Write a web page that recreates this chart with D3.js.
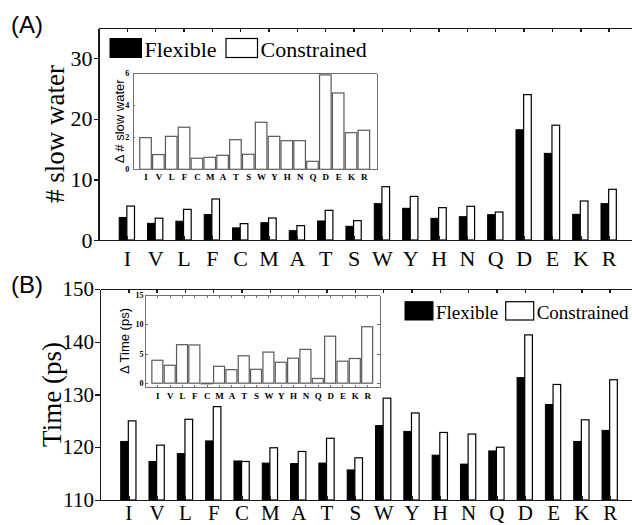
<!DOCTYPE html>
<html lang="en">
<head>
<meta charset="utf-8">
<title>Slow water and residence time</title>
<script src="https://d3js.org/d3.v7.min.js"></script>
<style>
    body { margin: 0; background: white; }
    .axis path, .axis line { fill: none; stroke: #1a1a1a; stroke-width: 1.4; shape-rendering: crispEdges; }
    .inset path, .inset line { fill: none; stroke: #707070; stroke-width: 1; shape-rendering: crispEdges; }
</style>
</head>
<body>
<script>
// residues on the x axis
var residues = ["I", "V", "L", "F", "C", "M", "A", "T", "S", "W", "Y", "H", "N", "Q", "D", "E", "K", "R"];

// (A) number of slow water
var slowFlexible    = [3.72, 2.75, 3.1, 4.2, 2.0, 2.86, 1.54, 3.14, 2.26, 6.0, 5.23, 3.58, 3.85, 4.18, 18.2, 14.3, 4.24, 6.0];
var slowConstrained = [5.6, 3.6, 5.06, 6.77, 2.7, 3.63, 2.37, 4.9, 3.19, 8.8, 7.2, 5.34, 5.56, 4.62, 24.0, 18.95, 6.44, 8.37];
var slowDelta       = [1.98, 0.92, 2.06, 2.63, 0.69, 0.75, 0.875, 1.85, 0.94, 2.94, 2.06, 1.79, 1.79, 0.5, 5.9, 4.77, 2.29, 2.44];
var slowTicks = [0, 10, 20, 30];
var slowDeltaTicks = [0, 2, 4, 6];

// (B) residence time
var timeFlexible    = [121.1, 117.3, 118.8, 121.2, 117.4, 117.0, 116.9, 117.0, 115.7, 124.1, 123.0, 118.5, 116.8, 119.3, 133.2, 128.1, 121.1, 123.2];
var timeConstrained = [125.0, 120.4, 125.3, 127.7, 117.3, 119.9, 119.2, 121.7, 118.0, 129.3, 126.5, 122.8, 122.5, 120.0, 141.3, 131.9, 125.2, 132.8];
var timeDelta       = [3.9, 3.05, 6.55, 6.5, -0.1, 2.87, 2.3, 4.66, 2.36, 5.29, 3.56, 4.25, 5.75, 0.8, 7.99, 3.74, 4.2, 9.6];
var timeTicks = [110, 120, 130, 140, 150];
var timeDeltaTicks = [0, 5, 10, 15];

var w = 632, h = 525;
var serif = "'Liberation Serif', 'Times New Roman', serif";
var sans = "'Liberation Sans', Arial, sans-serif";
var idx = d3.range(1, residues.length + 1);
var resName = function(d) { return residues[d - 1]; };
var intFmt = d3.format("d");

var svg = d3.select("body").append("svg").attr("width", w).attr("height", h);

function styleText(g, family, size, weight) {
    g.attr("font-family", family).attr("font-size", size);
    g.selectAll("text").attr("fill", "black").attr("font-weight", weight || "normal");
}

function drawPanel(c) {
    var g = svg.append("g");
    var x = d3.scaleLinear().domain([0, 19]).range([c.left, c.right]);
    var y = d3.scaleLinear().domain(c.yDomain).range([c.bottom, c.top]);
    var bw = 0.27 * (x(1) - x(0));
    var base = c.yDomain[0];

    // bars: flexible (black) left, constrained (white) right
    g.selectAll("rect.flex").data(c.flex).enter().append("rect")
        .attr("x", function(d, i) { return x(i + 1) - bw; })
        .attr("y", function(d) { return y(d); })
        .attr("width", bw)
        .attr("height", function(d) { return y(base) - y(d); })
        .attr("fill", "black").attr("stroke", "black").attr("stroke-width", 1);
    g.selectAll("rect.cons").data(c.cons).enter().append("rect")
        .attr("x", function(d, i) { return x(i + 1); })
        .attr("y", function(d) { return y(d); })
        .attr("width", bw)
        .attr("height", function(d) { return y(base) - y(d); })
        .attr("fill", "white").attr("stroke", "black").attr("stroke-width", 1.2);

    // frame + axes
    g.append("g").attr("class", "axis").attr("transform", "translate(0," + c.top + ")")
        .call(d3.axisTop(x).tickValues(idx).tickSizeInner(-4).tickSizeOuter(0).tickFormat(""));
    var xb = g.append("g").attr("class", "axis").attr("transform", "translate(0," + c.bottom + ")")
        .call(d3.axisBottom(x).tickValues(idx).tickSizeInner(-4).tickSizeOuter(0).tickPadding(c.xPad).tickFormat(resName));
    styleText(xb, serif, c.xFont);
    var yl = g.append("g").attr("class", "axis").attr("transform", "translate(" + c.left + ",0)")
        .call(d3.axisLeft(y).tickValues(c.yTicks).tickSizeInner(5).tickSizeOuter(0).tickPadding(1).tickFormat(intFmt));
    styleText(yl, serif, c.tickFont);

    g.append("text")
        .attr("transform", "translate(" + c.ylabelX + "," + ((c.top + c.bottom) / 2) + ") rotate(-90)")
        .attr("text-anchor", "middle")
        .attr("font-family", serif).attr("font-size", 27)
        .text(c.ylabel);

    g.append("text").attr("x", 11).attr("y", c.tagY)
        .attr("font-family", sans).attr("font-size", 24)
        .text(c.tag);

    // legend
    var L = c.legend;
    g.append("rect").attr("x", L.x).attr("y", L.y).attr("width", L.bw).attr("height", L.bh)
        .attr("fill", "black").attr("stroke", "black");
    g.append("text").attr("x", L.x + L.bw + 3).attr("y", L.y + L.bh - 1)
        .attr("font-family", serif).attr("font-size", L.font).text("Flexible");
    g.append("rect").attr("x", L.x2).attr("y", L.y).attr("width", L.bw).attr("height", L.bh)
        .attr("fill", "white").attr("stroke", "black").attr("stroke-width", 1.2);
    g.append("text").attr("x", L.x2 + L.bw + 3).attr("y", L.y + L.bh - 1)
        .attr("font-family", serif).attr("font-size", L.font).text("Constrained");

    drawInset(c.inset);
}

function drawInset(c) {
    var g = svg.append("g");
    var x = d3.scaleLinear().domain([0, 19]).range([c.left, c.right]);
    var y = d3.scaleLinear().domain(c.yDomain).range([c.bottom, c.top]);
    var bw = c.barFrac * (x(1) - x(0));

    g.append("rect").attr("x", c.left).attr("y", c.top)
        .attr("width", c.right - c.left).attr("height", c.bottom - c.top)
        .attr("fill", "white");

    g.selectAll("rect.delta").data(c.values).enter().append("rect")
        .attr("x", function(d, i) { return x(i + 1) - bw / 2; })
        .attr("y", function(d) { return y(Math.max(d, 0)); })
        .attr("width", bw)
        .attr("height", function(d) { return Math.abs(y(0) - y(d)); })
        .attr("fill", "white").attr("stroke", "#5a5a5a").attr("stroke-width", 1.2);

    var t = c.boxTicks ? -2.5 : 0;
    g.append("g").attr("class", "inset").attr("transform", "translate(0," + c.top + ")")
        .call(d3.axisTop(x).tickValues(idx).tickSizeInner(t).tickSizeOuter(0).tickFormat(""));
    var xb = g.append("g").attr("class", "inset").attr("transform", "translate(0," + c.bottom + ")")
        .call(d3.axisBottom(x).tickValues(idx).tickSizeInner(t).tickSizeOuter(0).tickPadding(c.xPad).tickFormat(resName));
    styleText(xb, serif, 9, "bold");
    var yl = g.append("g").attr("class", "inset").attr("transform", "translate(" + c.left + ",0)")
        .call(d3.axisLeft(y).tickValues(c.yTicks).tickSizeInner(-2.5).tickSizeOuter(0).tickPadding(c.yPad).tickFormat(intFmt));
    styleText(yl, serif, 8, "bold");
    g.append("g").attr("class", "inset").attr("transform", "translate(" + c.right + ",0)")
        .call(d3.axisRight(y).tickValues(c.boxTicks ? c.yTicks : []).tickSizeInner(-2.5).tickSizeOuter(0).tickFormat(""));

    g.append("text")
        .attr("transform", "translate(" + c.ylabelX + "," + ((c.top + c.bottom) / 2) + ") rotate(-90)")
        .attr("text-anchor", "middle")
        .attr("font-family", sans).attr("font-size", 13)
        .text(c.ylabel);
}

drawPanel({
    left: 98.5, right: 637, top: 28, bottom: 240,
    yDomain: [0, 35], yTicks: slowTicks, tickFont: 22, xPad: 10, xFont: 22,
    flex: slowFlexible, cons: slowConstrained,
    ylabel: "# slow water", ylabelX: 64,
    tag: "(A)", tagY: 33,
    legend: { x: 110, x2: 226, y: 38.5, bw: 31.5, bh: 19, font: 22 },
    inset: {
        left: 132.7, right: 376.7, top: 73.3, bottom: 169.3,
        yDomain: [0, 6], yTicks: slowDeltaTicks, values: slowDelta, barFrac: 0.9,
        xPad: 4.3, yPad: 3.5, boxTicks: false,
        ylabel: "\u0394 # slow water", ylabelX: 124
    }
});

drawPanel({
    left: 100, right: 638, top: 289, bottom: 500,
    yDomain: [110, 150], yTicks: timeTicks, tickFont: 21, xPad: 5, xFont: 21,
    flex: timeFlexible, cons: timeConstrained,
    ylabel: "Time (ps)", ylabelX: 60.5,
    tag: "(B)", tagY: 293,
    legend: { x: 405, x2: 505.7, y: 301.7, bw: 28, bh: 18.3, font: 19 },
    inset: {
        left: 145, right: 379.5, top: 295, bottom: 387,
        yDomain: [-0.65, 15], yTicks: timeDeltaTicks, values: timeDelta, barFrac: 0.89,
        xPad: 6, yPad: 1.5, boxTicks: true,
        ylabel: "\u0394 Time (ps)", ylabelX: 129
    }
});
</script>
</body>
</html>
